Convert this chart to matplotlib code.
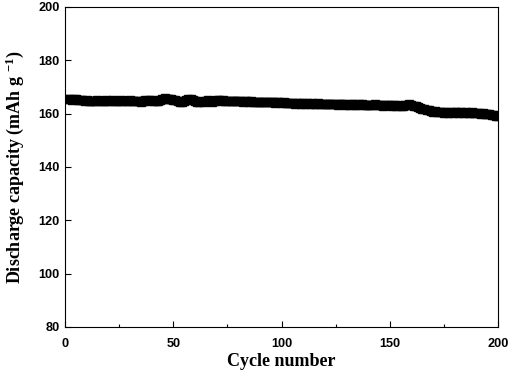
import matplotlib.pyplot as plt
from matplotlib.ticker import MultipleLocator

# discharge capacity per cycle (mAh/g)
capacity = [
    165.4, 165.5, 165.3, 165.6, 165.4, 165.2, 165.3, 165.0, 164.9, 165.1,
    164.8, 164.9, 164.7, 164.9, 165.0, 164.8, 164.9, 164.7, 165.0, 164.9,
    164.8, 165.0, 164.9, 164.7, 164.9, 165.0, 164.8, 164.6, 164.9, 165.0,
    164.7, 164.9, 164.6, 164.8, 164.5, 164.8, 165.0, 164.9, 165.3, 165.1,
    164.8, 164.6, 164.9, 165.2, 165.5, 165.7, 165.6, 165.4, 165.5, 165.2,
    165.0, 164.6, 164.5, 164.3, 164.6, 165.0, 165.4, 165.6, 165.3, 164.8,
    164.4, 164.2, 164.6, 164.5, 164.9, 165.0, 164.8, 164.5, 164.9, 165.1,
    165.0, 164.8, 165.1, 164.9, 164.8, 164.9, 164.7, 164.8, 164.6, 164.8,
    164.7, 164.5, 164.7, 164.6, 164.4, 164.6, 164.5, 164.3, 164.5, 164.4,
    164.3, 164.5, 164.4, 164.2, 164.4, 164.3, 164.1, 164.3, 164.2, 164.0,
    164.2, 164.1, 163.9, 164.1, 164.0, 163.8, 164.0, 163.9, 163.7, 163.9,
    163.8, 164.0, 163.7, 163.9, 163.6, 163.8, 163.9, 163.6, 163.8, 163.5,
    163.7, 163.6, 163.8, 163.5, 163.7, 163.4, 163.6, 163.5, 163.7, 163.4,
    163.3, 163.5, 163.6, 163.4, 163.2, 163.5, 163.6, 163.3, 163.2, 163.4,
    163.1, 163.3, 163.5, 163.2, 163.4, 163.2, 163.0, 163.3, 163.1, 163.2,
    163.0, 163.2, 162.9, 163.1, 163.0, 162.8, 163.1, 163.3, 163.5, 163.3,
    163.0, 162.7, 162.4, 162.2, 161.9, 161.6, 161.4, 161.2, 161.0, 160.8,
    160.9, 160.6, 160.5, 160.7, 160.4, 160.6, 160.3, 160.6, 160.4, 160.5,
    160.7, 160.4, 160.6, 160.3, 160.5, 160.4, 160.2, 160.5, 160.3, 160.1,
    160.3, 160.0, 160.2, 159.9, 159.8, 159.7, 159.5, 159.6, 159.3, 159.2,
]
cycles = list(range(1, len(capacity) + 1))

x_ticks = [0, 50, 100, 150, 200]
y_ticks = [80, 100, 120, 140, 160, 180, 200]

plt.rcParams['mathtext.fontset'] = 'custom'
plt.rcParams['mathtext.rm'] = 'Liberation Serif:bold'
plt.rcParams['mathtext.bf'] = 'Liberation Serif:bold'
plt.rcParams['mathtext.default'] = 'rm'

fig = plt.figure(figsize=(5.1, 3.74), dpi=100)
ax = fig.add_axes([0.1275, 0.1257, 0.849, 0.8556])

ax.plot(cycles, capacity, color='black', marker='s', markersize=5.4,
        linestyle='-', linewidth=1.2)

ax.set_xlim(0, 200)
ax.set_ylim(80, 200)
ax.set_xticks(x_ticks)
ax.set_yticks(y_ticks)
ax.xaxis.set_minor_locator(MultipleLocator(25))
ax.tick_params(which='both', direction='in', top=False, right=False)
ax.tick_params(which='major', length=4, width=0.8, pad=4)
ax.tick_params(axis='x', which='major', pad=8)
ax.tick_params(which='minor', length=2.5, width=0.8)

for lab in ax.get_xticklabels() + ax.get_yticklabels():
    lab.set_family('Liberation Sans')
    lab.set_fontweight('bold')
    lab.set_fontsize(9.2)

ax.set_xlabel("Cycle number", family='Liberation Serif', fontweight='bold',
              fontsize=13, labelpad=2)
ax.set_ylabel(r"Discharge capacity (mAh g $^{-1}$)",
              family='Liberation Serif', fontweight='bold', fontsize=13,
              labelpad=9)

for s in ax.spines.values():
    s.set_linewidth(0.8)

fig.savefig('out.png', dpi=100)
